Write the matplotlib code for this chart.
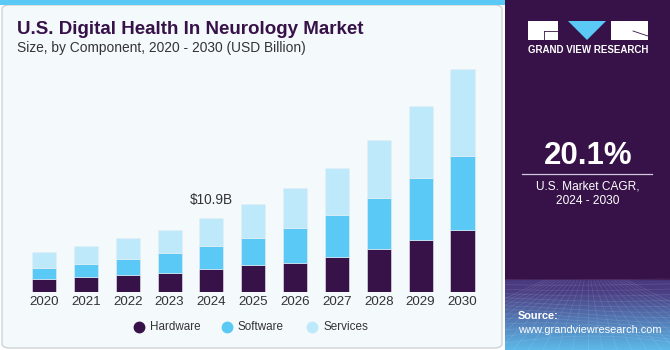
import numpy as np
import matplotlib
matplotlib.use("Agg")
import matplotlib.pyplot as plt
from matplotlib.patches import FancyBboxPatch, Rectangle, Polygon
from matplotlib.lines import Line2D

plt.rcParams['font.family'] = ['Liberation Sans', 'DejaVu Sans']

years = ["2020", "2021", "2022", "2023", "2024", "2025", "2026", "2027", "2028", "2029", "2030"]
hardware = [1.91, 2.20, 2.54, 2.83, 3.37, 3.92, 4.30, 5.13, 6.31, 7.63, 9.14]
software = [1.61, 1.95, 2.30, 2.93, 3.42, 3.96, 5.13, 6.12, 7.44, 9.05, 10.86]
services = [2.39, 2.60, 3.04, 3.37, 4.11, 5.03, 5.87, 6.94, 8.55, 10.56, 12.66]
series_names = ["Hardware", "Software", "Services"]
colors = ["#371248", "#5bc9f5", "#bde9fa"]
callout_year = "2024"
callout_text = "$10.9B"
cagr = "20.1%"

W, H = 670, 350
fig = plt.figure(figsize=(6.7, 3.5), dpi=100)
fig.patch.set_facecolor("white")

def fx(px):
    return px / W

def fy(py):
    return 1 - py / H

# left card
card = FancyBboxPatch((fx(2), fy(348)), fx(500), fy(5) - fy(348),
                      boxstyle="round,pad=0,rounding_size=0.012",
                      transform=fig.transFigure, facecolor="#f4f9fc",
                      edgecolor="#cfd4d8", linewidth=1.0, zorder=-2)
fig.patches.append(card)
fig.patches.append(Rectangle((0, fy(5)), fx(505), fy(0) - fy(5),
                             transform=fig.transFigure, facecolor="#5bc9f5",
                             edgecolor="none", zorder=-1))

# right panel with gradient at bottom
pax = fig.add_axes([fx(505), 0, fx(165), 1])
pax.set_zorder(-1)
pax.set_xlim(0, 1)
pax.set_ylim(0, 1)
pax.axis("off")
grad = np.linspace(0, 1, 200)
top_c = np.array([0x37, 0x12, 0x48]) / 255
mid_c = np.array([0x4a, 0x3a, 0x80]) / 255
bot_c = np.array([0x5c, 0xb8, 0xe8]) / 255
img = np.zeros((200, 1, 3))
for i, t in enumerate(grad):
    frac = t * 350 / 70.0
    if frac >= 1:
        img[i, 0] = top_c
    elif frac > 0.85:
        img[i, 0] = mid_c
    else:
        s = frac / 0.85
        img[i, 0] = bot_c * (1 - s) + mid_c * s
pax.imshow(img, extent=(0, 1, 0, 1), origin="lower", aspect="auto", zorder=0)
# faint grid texture
for k in range(14):
    xs = np.linspace(0, 1, 30)
    pax.plot(xs, 0.02 + k * 0.014 + 0.02 * np.sin(xs * 3 + k * 0.3) * (1 - k / 14),
             color="white", alpha=0.12, lw=0.5)
for k in range(-6, 20):
    pax.plot([0.5 + (k - 7) * 0.02, 0.5 + (k - 7) * 0.09], [0.2, 0.0],
             color="white", alpha=0.12, lw=0.5)

# logo
fig.patches.append(Rectangle((fx(528), fy(40)), fx(30), fy(21) - fy(40),
                             transform=fig.transFigure, facecolor="white", edgecolor="none"))
fig.patches.append(Rectangle((fx(611), fy(40)), fx(37), fy(21) - fy(40),
                             transform=fig.transFigure, facecolor="white", edgecolor="none"))
fig.patches.append(Polygon([(fx(568), fy(21)), (fx(606), fy(21)), (fx(587), fy(40))],
                           closed=True, transform=fig.transFigure,
                           facecolor="#5bc9f5", edgecolor="none"))
fig.lines.append(Line2D([fx(544), fx(558)], [fy(31), fy(31)], transform=fig.transFigure,
                        color="#371248", lw=0.6))
fig.lines.append(Line2D([fx(544), fx(544)], [fy(31), fy(40)], transform=fig.transFigure,
                        color="#371248", lw=0.6))
fig.lines.append(Line2D([fx(633), fx(648)], [fy(31), fy(36)], transform=fig.transFigure,
                        color="#371248", lw=0.6))
fig.text(fx(588), fy(50), "GRAND VIEW RESEARCH", color="white", fontsize=7.0,
         fontweight="bold", ha="center", va="center")

fig.text(fx(588), fy(156), cagr, color="white", fontsize=22.5, fontweight="bold",
         ha="center", va="center")
fig.lines.append(Line2D([fx(522), fx(652)], [fy(173.5), fy(173.5)], transform=fig.transFigure,
                        color="#d0c8dc", lw=0.9))
fig.text(fx(588), fy(186), "U.S. Market CAGR,", color="white", fontsize=8.6,
         ha="center", va="center")
fig.text(fx(588), fy(201), "2024 - 2030", color="white", fontsize=8.6,
         ha="center", va="center")
fig.text(fx(518), fy(316), "Source:", color="white", fontsize=7.9, fontweight="bold",
         ha="left", va="center")
fig.text(fx(518), fy(330), "www.grandviewresearch.com", color="white", fontsize=7.9,
         ha="left", va="center")

# titles
fig.text(fx(17), fy(30), "U.S. Digital Health In Neurology Market", color="#371248",
         fontsize=13.5, fontweight="bold", ha="left", va="center")
fig.text(fx(17), fy(48), "Size, by Component, 2020 - 2030 (USD Billion)", color="#333333",
         fontsize=9.9, ha="left", va="center")

# bar chart
step = 41.85
left_px = 44 - step / 2
ax = fig.add_axes([fx(left_px), fy(292), fx(step * 11), fy(60) - fy(292)])
ax.set_zorder(2)
ax.patch.set_alpha(0)
x = np.arange(len(years))
bottom = np.zeros(len(years))
for vals, name, c in zip([hardware, software, services], series_names, colors):
    ax.bar(x, vals, width=0.575, bottom=bottom, color=c, edgecolor="#e8eef3",
           linewidth=0.4, label=name, zorder=2)
    bottom += np.array(vals)
ax.set_xlim(-0.5, len(years) - 0.5)
ax.set_ylim(0, 232 * 0.1467)
ax.set_xticks(x)
ax.set_xticklabels(years, fontsize=9.6, color="#333333")
ax.tick_params(axis="x", length=0, pad=3)
ax.set_yticks([])
for s in ax.spines.values():
    s.set_visible(False)

ci = years.index(callout_year)
ax.annotate(callout_text, (ci, bottom[ci]), xytext=(0, 12.5), textcoords="offset points",
            ha="center", va="center", fontsize=9.8, color="#333333")

# legend
leg_x = [139, 227, 312]
for lx, name, c in zip(leg_x, series_names, colors):
    fig.lines.append(Line2D([fx(lx)], [fy(327)], transform=fig.transFigure, marker="o",
                            markersize=7.5, color=c, linestyle="none"))
    fig.text(fx(lx + 11), fy(327), name, color="#333333", fontsize=8.4,
             ha="left", va="center")

fig.savefig("out.png", dpi=100, facecolor=fig.get_facecolor())
